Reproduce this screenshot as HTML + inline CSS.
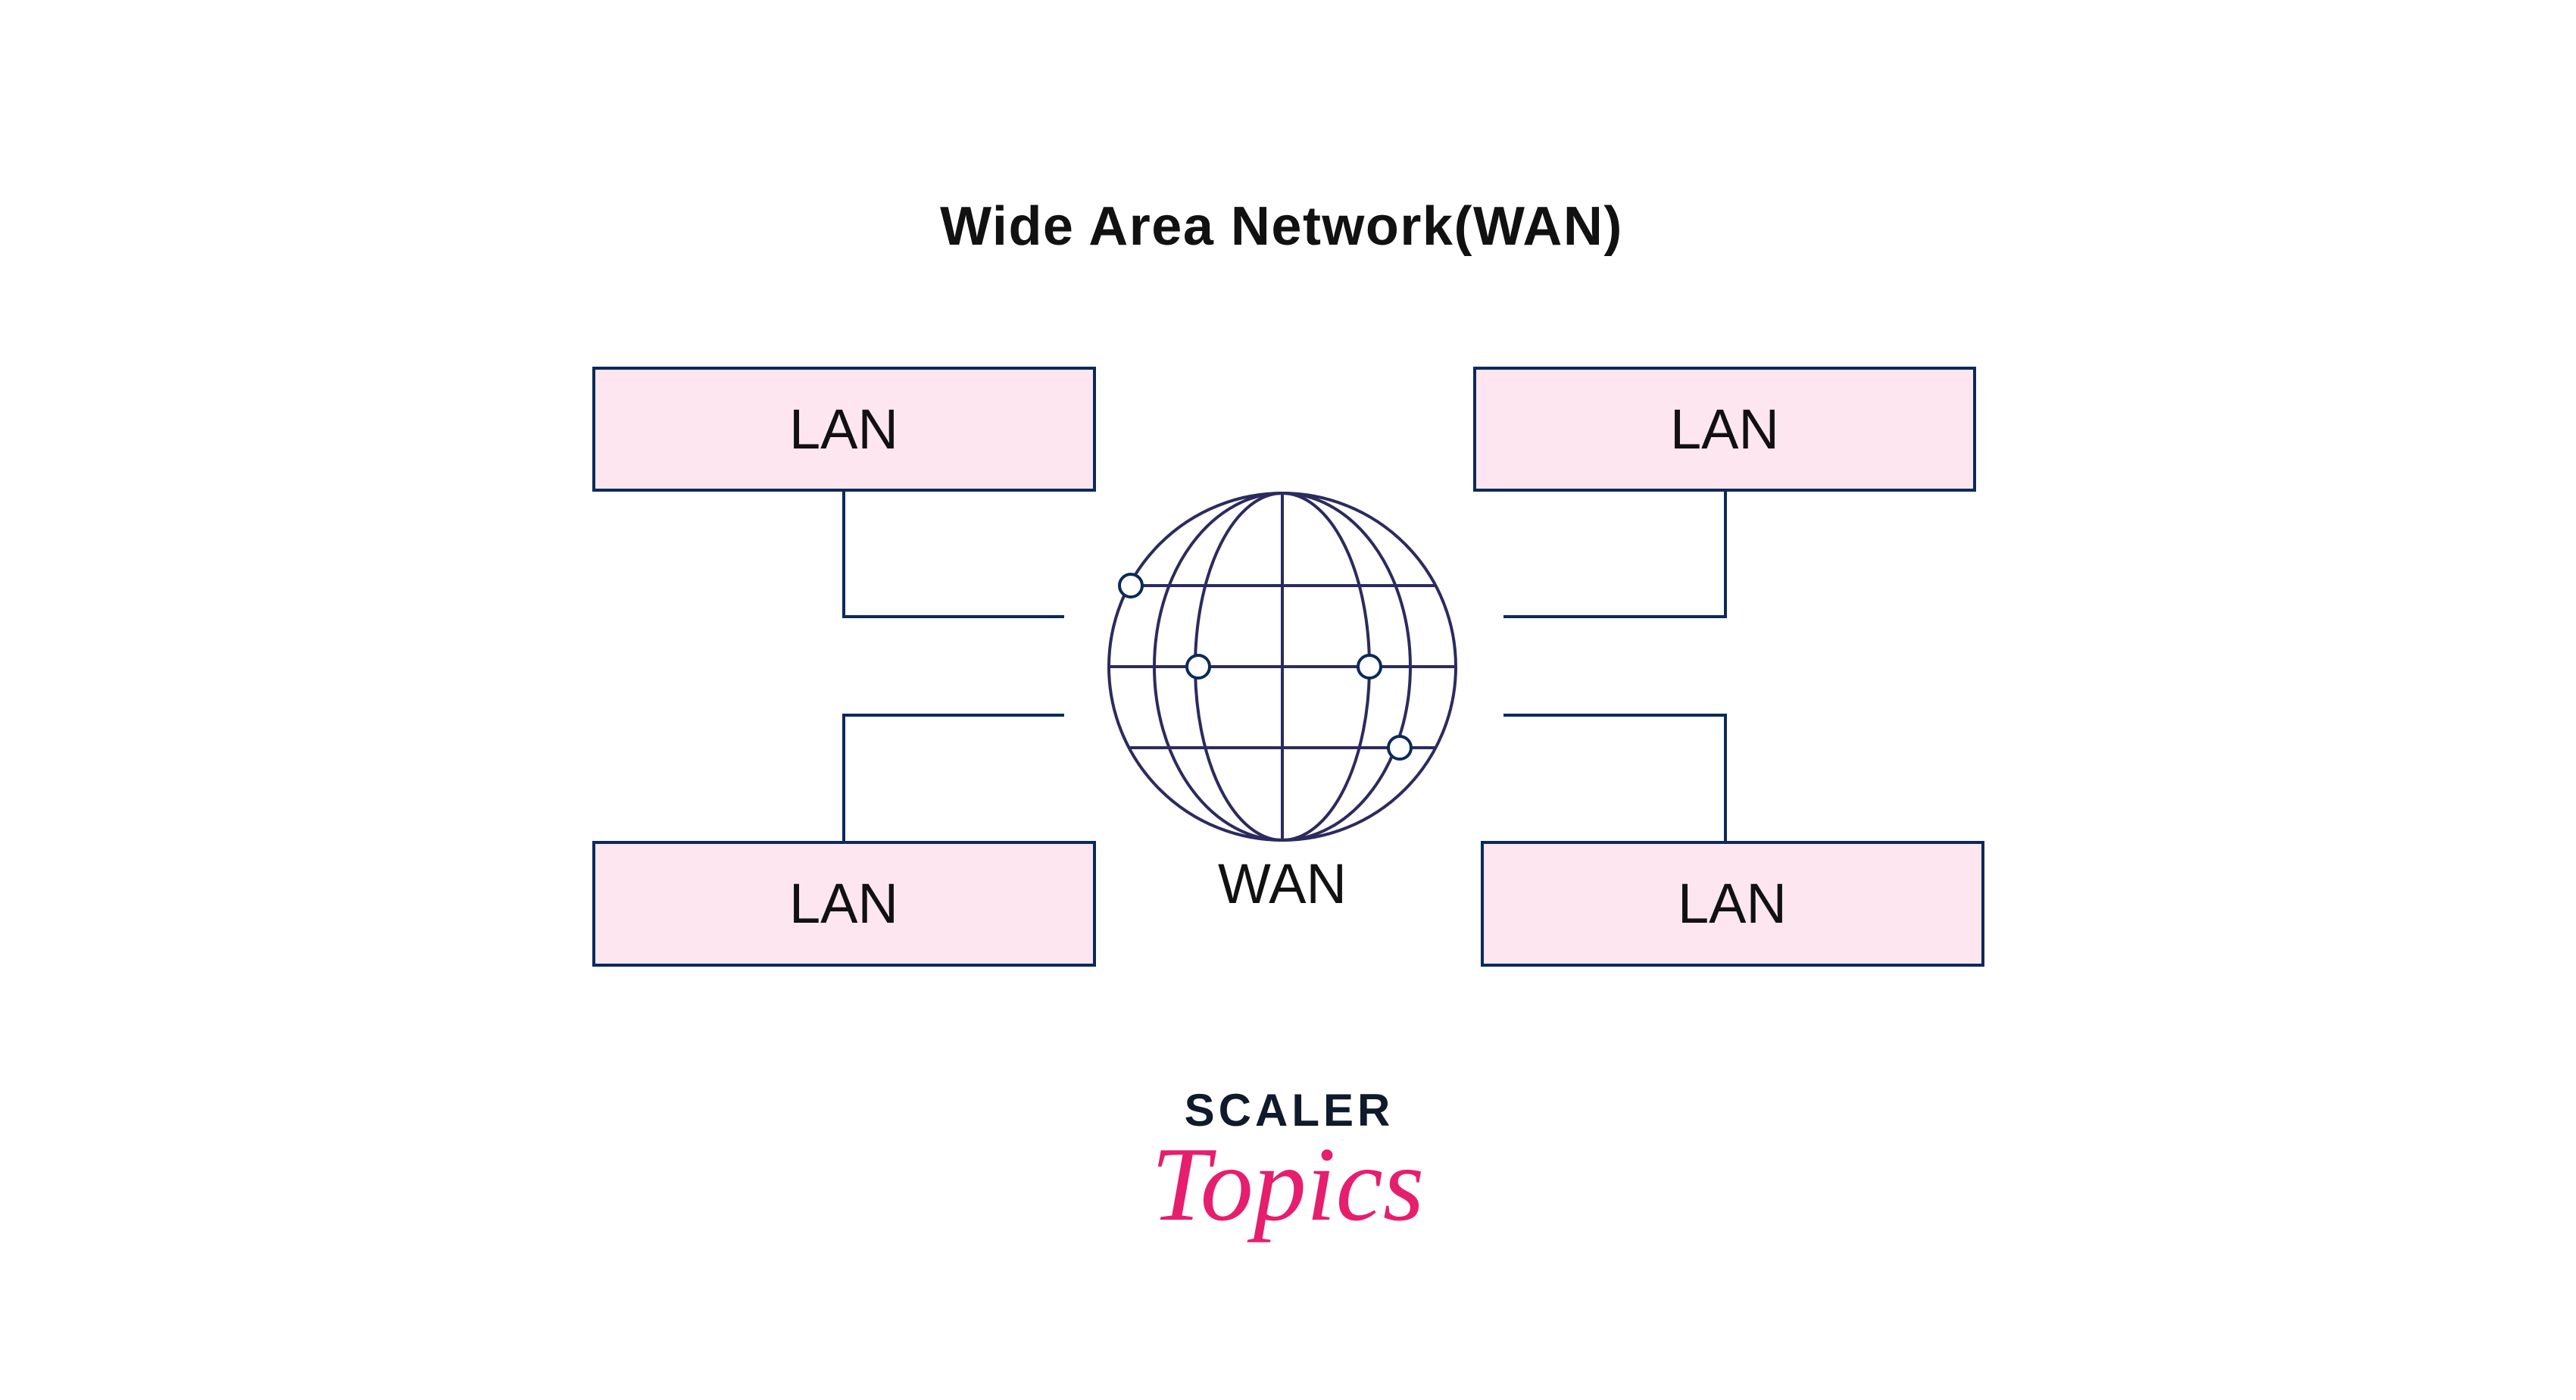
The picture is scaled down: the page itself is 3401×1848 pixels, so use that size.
<!DOCTYPE html>
<html><head><meta charset="utf-8"><style>
html,body{margin:0;padding:0;background:#fff;}
svg{display:block}
</style></head><body>
<svg width="3401" height="1848" viewBox="0 0 3401 1848" xmlns="http://www.w3.org/2000/svg">
<rect width="3401" height="1848" fill="#fff"/>
<text x="1692" y="323" text-anchor="middle" font-family="Liberation Sans, sans-serif" font-weight="bold" font-size="72" letter-spacing="1.5" fill="#111">Wide Area Network(WAN)</text>
<g fill="#fde6f0" stroke="#0b2a5a" stroke-width="4">
<rect x="784" y="486" width="661" height="161"/>
<rect x="1947" y="486" width="660" height="161"/>
<rect x="784" y="1112" width="661" height="162"/>
<rect x="1957" y="1112" width="661" height="162"/>
</g>
<g font-family="Liberation Sans, sans-serif" font-size="74" fill="#111" text-anchor="middle">
<text x="1114" y="592">LAN</text>
<text x="2277" y="592">LAN</text>
<text x="1114" y="1218">LAN</text>
<text x="2287" y="1218">LAN</text>
<text x="1693" y="1192">WAN</text>
</g>
<g fill="none" stroke="#0b2a5a" stroke-width="4">
<polyline points="1114,647 1114,814 1405,814"/>
<polyline points="1405,944 1114,944 1114,1112"/>
<polyline points="2278,647 2278,814 1985,814"/>
<polyline points="1985,944 2278,944 2278,1112"/>
</g>
<g transform="translate(-4,0)">
<g fill="none" stroke="#2b2b5e" stroke-width="4">
<circle cx="1697" cy="880" r="229"/>
<ellipse cx="1697" cy="880" rx="169" ry="229"/>
<ellipse cx="1697" cy="880" rx="115" ry="229"/>
<line x1="1697" y1="651" x2="1697" y2="1109"/>
<line x1="1495" y1="773" x2="1899" y2="773"/>
<line x1="1468" y1="880" x2="1926" y2="880"/>
<line x1="1495" y1="987" x2="1899" y2="987"/>
</g>
<g fill="#fff" stroke="#0b2a5a" stroke-width="4">
<circle cx="1497" cy="773" r="15"/>
<circle cx="1586" cy="880" r="15"/>
<circle cx="1812" cy="880" r="15"/>
<circle cx="1852" cy="987" r="15"/>
</g>
</g>
<text x="1702" y="1486" text-anchor="middle" font-family="Liberation Sans, sans-serif" font-weight="bold" font-size="60" letter-spacing="5" fill="#0f1a2c">SCALER</text>
<text x="1700" y="1610" text-anchor="middle" font-family="Liberation Serif, serif" font-style="italic" font-size="140" fill="#e61e6e">Topics</text>
</svg>
</body></html>
